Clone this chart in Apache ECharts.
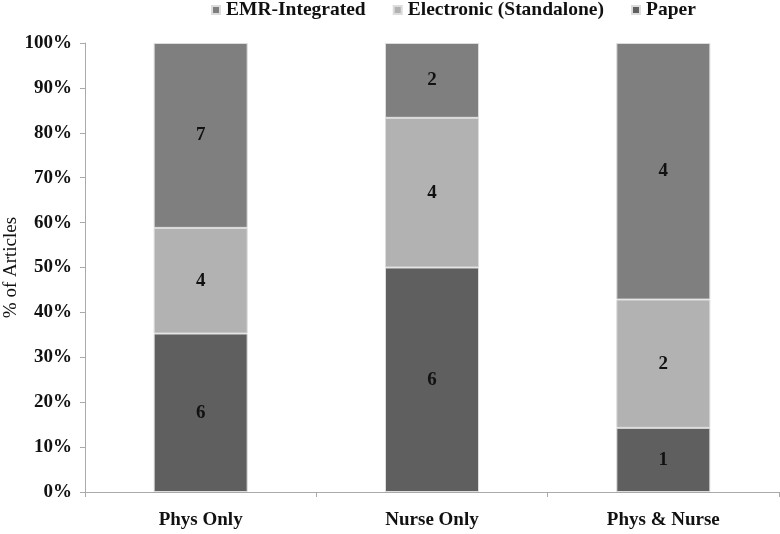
<!DOCTYPE html>
<html><head><meta charset="utf-8">
<script src="https://cdn.jsdelivr.net/npm/echarts@6/dist/echarts.min.js"></script>
<style>html,body{margin:0;padding:0;background:#fff}#c{width:780px;height:534px}</style>
</head><body><div id="c"></div>
<script>
var categories = ['Phys Only', 'Nurse Only', 'Phys & Nurse'];
var paper = [6, 6, 1];
var electronic = [4, 4, 2];
var emr = [7, 2, 4];
var yTicks = ['0%','10%','20%','30%','40%','50%','60%','70%','80%','90%','100%'];

var totals = categories.map(function(_, i){ return paper[i] + electronic[i] + emr[i]; });
function pct(arr){ return arr.map(function(v, i){ return { value: v / totals[i] * 100, count: v }; }); }

var font = 'Liberation Serif';
var FS = 19;
var chart = echarts.init(document.getElementById('c'));
function series(name, arr, color){
  return {
    name: name, type: 'bar', stack: 'a', barWidth: 94,
    data: pct(arr),
    itemStyle: { color: color, borderColor: '#dcdcdc', borderWidth: 1 },
    label: { show: true, position: 'inside', fontFamily: font, fontWeight: 'bold', fontSize: FS, color: '#111',
      formatter: function(p){ return p.data.count; } }
  };
}
chart.setOption({
  animation: false,
  textStyle: { fontFamily: font },
  legend: {
    left: 206, top: -5, itemWidth: 8, itemHeight: 8, itemGap: 27, icon: 'rect',
    data: ['EMR-Integrated', 'Electronic (Standalone)', 'Paper'],
    textStyle: { fontFamily: font, fontWeight: 'bold', fontSize: 19.5, color: '#111', padding: [0,0,0,1] }
  },
  grid: { left: 85, right: 1, top: 43, bottom: 42, containLabel: false, outerBoundsMode: 'none' },
  xAxis: {
    type: 'category', data: categories,
    axisLine: { lineStyle: { color: '#aaa', width: 1 } },
    axisTick: { show: true, length: 5, lineStyle: { color: '#aaa' } },
    axisLabel: { fontFamily: font, fontWeight: 'bold', fontSize: FS, color: '#111', margin: 19 }
  },
  yAxis: {
    type: 'value', min: 0, max: 100, interval: 10,
    name: '% of Articles', nameLocation: 'middle', nameGap: 64, nameRotate: 90, nameMoveOverlap: false,
    nameTextStyle: { fontFamily: font, fontWeight: 'normal', fontSize: 19, color: '#111' },
    axisLine: { show: true, lineStyle: { color: '#aaa' } },
    axisTick: { show: true, length: 5, lineStyle: { color: '#aaa' } },
    splitLine: { show: false },
    axisLabel: { fontFamily: font, fontWeight: 'bold', fontSize: FS, color: '#111', margin: 13,
      formatter: function(v){ return yTicks[Math.round(v / 10)]; } }
  },
  series: [
    series('Paper', paper, '#5f5f5f'),
    series('Electronic (Standalone)', electronic, '#b2b2b2'),
    series('EMR-Integrated', emr, '#7f7f7f')
  ]
});
</script></body></html>
